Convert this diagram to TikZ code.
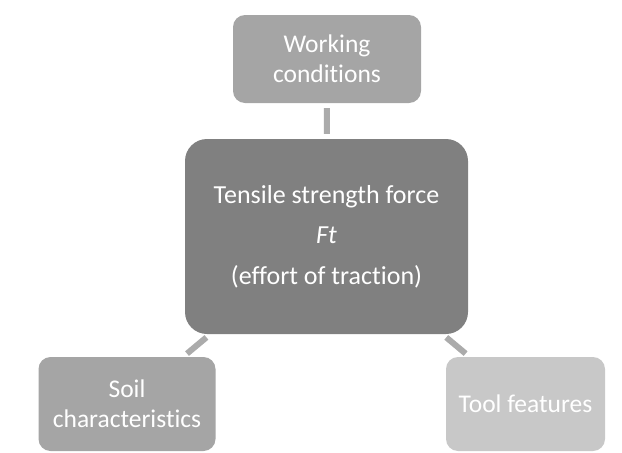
\documentclass[tikz,border=0pt]{standalone}
\usepackage{fontspec}
\setmainfont{Carlito}[Ligatures=NoCommon]
\usetikzlibrary{positioning}

\definecolor{mainfill}{HTML}{808080}
\definecolor{midfill}{HTML}{A5A5A5}
\definecolor{lightfill}{HTML}{C8C8C8}
\definecolor{linkgray}{HTML}{ABABAB}

\tikzset{
    factor/.style={rounded corners=12pt, text=white, align=center,
        minimum width=177pt, minimum height=94pt, inner sep=2pt,
        font=\fontsize{25.5}{30}\selectfont},
    link/.style={draw=linkgray, line width=6pt, shorten >=5pt, shorten <=5pt}
}

\begin{document}
\begin{tikzpicture}[x=1pt, y=-1pt]
    % Fix the page size to the reference
    \useasboundingbox (0,0) rectangle (622,453);

    % Central box with the traction force
    \node[fill=mainfill, rounded corners=22pt, text=white, align=center,
          minimum width=283pt, minimum height=195pt,
          font=\fontsize{26}{40.5}\selectfont] (force) at (326.5,236.5)
          {Tensile strength force\\ \textit{Ft}\\ (effort of traction)};

    % The three influencing factors
    \node[factor, fill=midfill, minimum width=188pt, minimum height=88pt] (work) at (327,59) {Working\\ conditions};
    \node[factor, fill=midfill] (soil) at (127,404) {Soil\\ characteristics};
    \node[factor, fill=lightfill, minimum width=159pt] (tool) at (525.5,404) {Tool features};

    % Connectors between the boxes
    \draw[link] (work) -- (force);
    \draw[link] (force) -- (soil);
    \draw[link] (force) -- (tool);
\end{tikzpicture}
\end{document}
